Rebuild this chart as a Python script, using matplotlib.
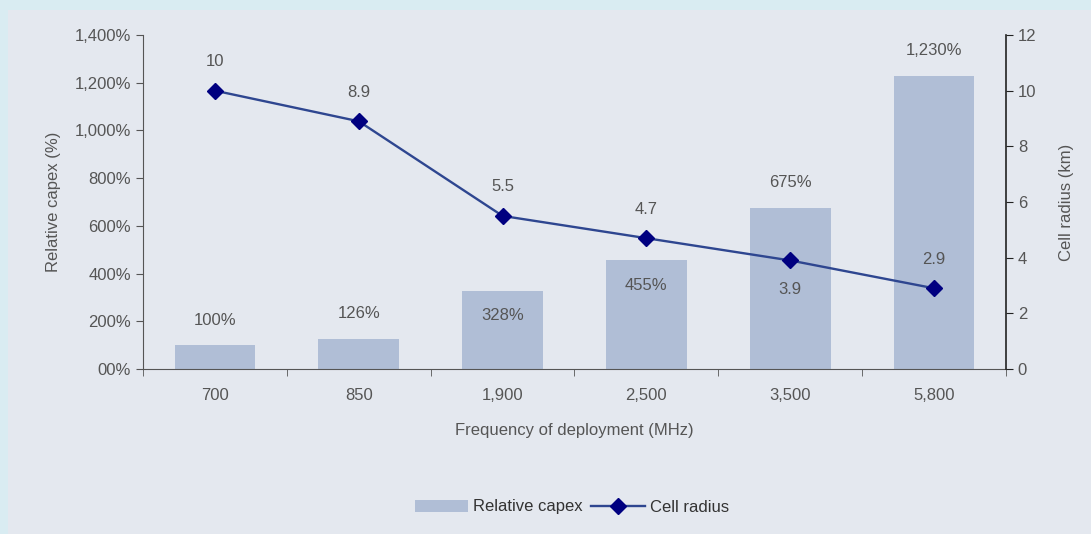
import matplotlib
matplotlib.use("Agg")
import matplotlib.pyplot as plt
from matplotlib.patches import Rectangle
import numpy as np

plt.rcParams["font.family"] = ["Liberation Sans", "DejaVu Sans"]

# data
freqs = ["700", "850", "1,900", "2,500", "3,500", "5,800"]
capex = [100, 126, 328, 455, 675, 1230]
capex_labels = ["100%", "126%", "328%", "455%", "675%", "1,230%"]
radius = [10, 8.9, 5.5, 4.7, 3.9, 2.9]
radius_labels = ["10", "8.9", "5.5", "4.7", "3.9", "2.9"]
# label above (+) or below (-) the mark
capex_side = [1, 1, -1, -1, 1, 1]
radius_side = [1, 1, 1, 1, -1, 1]

text_col = "#555555"
bar_col = "#b0bed6"

fig = plt.figure(figsize=(10.91, 5.34), dpi=100)
fig.patch.set_facecolor("#d9ecf2")
fig.patches.append(Rectangle((8 / 1091, 0), 1, 1 - 10 / 534, transform=fig.transFigure,
                             facecolor="#e4e8ef", edgecolor="none", zorder=-5))

ax = fig.add_axes([143 / 1091, 1 - 369 / 534, (1006 - 143) / 1091, (369 - 35) / 534])
ax.set_facecolor("none")
x = np.arange(len(freqs))

ax.bar(x, capex, width=0.56, color=bar_col, zorder=1, label="Relative capex")
ax.set_xlim(-0.5, 5.5)
ax.set_ylim(0, 1400)
ax.set_yticks(range(0, 1401, 200))
ax.set_yticklabels(["00%"] + [f"{v:,}%" for v in range(200, 1401, 200)])
ax.set_xticks(x)
ax.set_xticklabels(freqs)
ax.set_xticks(np.arange(-0.5, 5.6, 1), minor=True)
ax.tick_params(axis="x", which="major", length=0, pad=14, labelsize=12, labelcolor=text_col)
ax.tick_params(axis="x", which="minor", length=5, color="#555555")
ax.tick_params(axis="y", length=5, labelsize=12, labelcolor=text_col, color="#555555")
ax.spines["top"].set_visible(False)
ax.spines["right"].set_visible(False)
ax.spines["left"].set_color("#555555")
ax.spines["bottom"].set_color("#555555")
ax.set_ylabel("Relative capex (%)", fontsize=12, color=text_col, labelpad=10)
ax.set_xlabel("Frequency of deployment (MHz)", fontsize=12, color=text_col, labelpad=14)

for xi, v, lab, s in zip(x, capex, capex_labels, capex_side):
    ax.annotate(lab, (xi, v), xytext=(0, 18 * s), textcoords="offset points",
                ha="center", va="center", fontsize=12, color=text_col)

ax2 = ax.twinx()
ax2.set_ylim(0, 12)
ax2.set_yticks(range(0, 13, 2))
ax2.plot(x, radius, color="#2e4690", lw=1.7, marker="D", markersize=8.5,
         markerfacecolor="#000080", markeredgecolor="#000080", label="Cell radius")
ax2.tick_params(axis="y", length=5, labelsize=12, labelcolor=text_col, color="#222222")
ax2.spines["top"].set_visible(False)
ax2.spines["left"].set_visible(False)
ax2.spines["bottom"].set_visible(False)
ax2.spines["right"].set_color("#222222")
ax2.spines["right"].set_linewidth(1.2)
ax2.set_ylabel("Cell radius (km)", fontsize=12, color=text_col, labelpad=16)

for xi, v, lab, s in zip(x, radius, radius_labels, radius_side):
    ax2.annotate(lab, (xi, v), xytext=(0, 21 * s), textcoords="offset points",
                 ha="center", va="center", fontsize=12, color=text_col)

h1, l1 = ax.get_legend_handles_labels()
h2, l2 = ax2.get_legend_handles_labels()
fig.legend(h1 + h2, l1 + l2, loc="center", bbox_to_anchor=(572 / 1091, 1 - 507 / 534),
           ncol=2, frameon=False, fontsize=12, labelcolor="#333333",
           handlelength=3.2, handletextpad=0.3, columnspacing=0.5)

fig.savefig("out.png", dpi=100, facecolor=fig.get_facecolor())
